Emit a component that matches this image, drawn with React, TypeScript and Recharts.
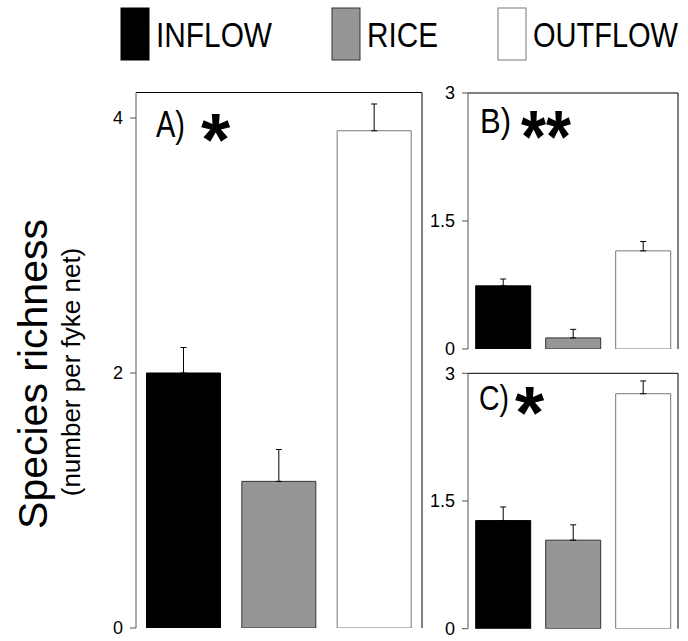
import React from 'react';
import { BarChart, Bar, XAxis, YAxis, Cell, ErrorBar } from 'recharts';

const categories = ['INFLOW', 'RICE', 'OUTFLOW'];
const fills = ['#000000', '#969696', '#ffffff'];
const strokes = ['#000000', '#333333', '#777777'];

const valuesA = [2.0, 1.15, 3.9];
const errorsA = [0.2, 0.25, 0.21];
const valuesB = [0.74, 0.13, 1.15];
const errorsB = [0.08, 0.1, 0.11];
const valuesC = [1.27, 1.04, 2.76];
const errorsC = [0.16, 0.18, 0.15];

const ticksA = [0, 2, 4];
const ticksBC = [0, 1.5, 3];
const boundaryTicks = [0, 1, 2, 3];

const FONT = '"Liberation Sans", Arial, sans-serif';

function rows(values: number[], errors: number[]) {
  return categories.map((c, i) => ({ cat: c, value: values[i], err: [0, errors[i]] }));
}

const EmptyTick = () => <g />;

type PanelProps = {
  data: { cat: string; value: number; err: number[] }[];
  left: number;
  top: number;
  width: number;
  height: number;
  yWidth: number;
  margin: { top: number; right: number; left: number; bottom: number };
  xHeight: number;
  domainMax: number;
  ticks: number[];
};

function Panel(p: PanelProps) {
  return (
    <div style={{ position: 'absolute', left: p.left, top: p.top }}>
      <BarChart width={p.width} height={p.height} data={p.data} margin={p.margin} barCategoryGap="11%">
        <XAxis xAxisId="cat" dataKey="cat" hide />
        <XAxis
          xAxisId="frame"
          type="number"
          domain={[0, 3]}
          ticks={boundaryTicks}
          tick={EmptyTick}
          tickSize={5}
          height={p.xHeight}
          stroke="#333"
          allowDataOverflow
        />
        <XAxis
          xAxisId="topframe"
          orientation="top"
          type="number"
          domain={[0, 3]}
          ticks={boundaryTicks}
          tick={EmptyTick}
          tickLine={false}
          height={1}
          stroke="#000"
          allowDataOverflow
        />
        <YAxis
          yAxisId="v"
          domain={[0, p.domainMax]}
          ticks={p.ticks}
          width={p.yWidth}
          tickSize={6}
          tickMargin={7}
          stroke="#555"
          tick={{ fill: '#000', fontSize: 18, fontFamily: FONT }}
          allowDataOverflow
        />
        <YAxis
          yAxisId="rightframe"
          orientation="right"
          type="number"
          domain={[0, p.domainMax]}
          ticks={p.ticks}
          tick={EmptyTick}
          tickLine={false}
          width={1}
          stroke="#000"
          allowDataOverflow
        />
        <Bar dataKey="value" xAxisId="cat" yAxisId="v" isAnimationActive={false}>
          {p.data.map((d, i) => (
            <Cell key={d.cat} fill={fills[i]} stroke={strokes[i]} strokeWidth={1} />
          ))}
          <ErrorBar dataKey="err" direction="y" width={3} stroke="#000" strokeWidth={1} isAnimationActive={false} />
        </Bar>
      </BarChart>
    </div>
  );
}

const legendBoxX = [121, 332, 498];
const legendTextX = [156, 367, 533];
const legendTextLen = [116, 71, 145];

export default function App() {
  return (
    <div style={{ position: 'absolute', left: 0, top: 0, width: 688, height: 641, background: '#fff', fontFamily: FONT }}>
      <svg width={688} height={641} style={{ position: 'absolute', left: 0, top: 0 }}>
        {categories.map((c, i) => (
          <g key={c}>
            <rect x={legendBoxX[i]} y={8} width={28} height={52} fill={fills[i]} stroke={strokes[i]} strokeWidth={1} />
            <text x={legendTextX[i]} y={47} fontSize={35} fontFamily={FONT} fill="#000"
              textLength={legendTextLen[i]} lengthAdjust="spacingAndGlyphs">{c}</text>
          </g>
        ))}
        <text x={0} y={0} transform="translate(47,374) rotate(-90)" textAnchor="middle" fontSize={41} fontFamily={FONT} fill="#000">Species richness</text>
        <text x={0} y={0} transform="translate(80,372) rotate(-90)" textAnchor="middle" fontSize={26} fontFamily={FONT} fill="#000">(number per fyke net)</text>
      </svg>
      <Panel data={rows(valuesA, errorsA)} left={80} top={80} width={360} height={561} yWidth={56}
        margin={{ top: 11.5, right: 17, left: 0, bottom: 0 }} xHeight={13} domainMax={4.2} ticks={ticksA} />
      <Panel data={rows(valuesB, errorsB)} left={420} top={80} width={268} height={281} yWidth={48}
        margin={{ top: 12, right: 9, left: 0, bottom: 0 }} xHeight={12} domainMax={3} ticks={ticksBC} />
      <Panel data={rows(valuesC, errorsC)} left={420} top={360} width={268} height={281} yWidth={48}
        margin={{ top: 12.3, right: 9, left: 0, bottom: 0 }} xHeight={12.3} domainMax={3} ticks={ticksBC} />
      <svg width={688} height={641} style={{ position: 'absolute', left: 0, top: 0, pointerEvents: 'none' }}>
        <text x={156} y={137} fontSize={36} fontFamily={FONT} fill="#000" textLength={29} lengthAdjust="spacingAndGlyphs">A)</text>
        <text x={201} y={165} fontSize={75} fontWeight="bold" fontFamily={FONT} fill="#000">*</text>
        <text x={480} y={133} fontSize={35} fontFamily={FONT} fill="#000" textLength={31} lengthAdjust="spacingAndGlyphs">B)</text>
        <text x={521} y={162} fontSize={75} fontWeight="bold" fontFamily={FONT} fill="#000" textLength={50} lengthAdjust="spacingAndGlyphs">**</text>
        <text x={479} y={410} fontSize={35} fontFamily={FONT} fill="#000" textLength={30} lengthAdjust="spacingAndGlyphs">C)</text>
        <text x={515} y={438} fontSize={75} fontWeight="bold" fontFamily={FONT} fill="#000">*</text>
      </svg>
    </div>
  );
}
